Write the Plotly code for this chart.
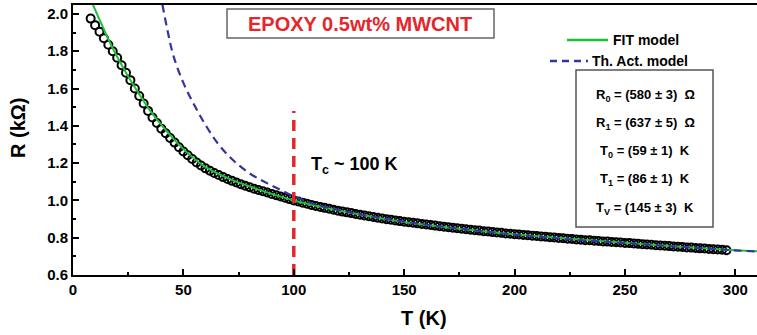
import plotly.graph_objects as go

# ---- data ----
T_data = list(range(8, 297, 2))
R_data = [1.975, 1.940, 1.905, 1.870, 1.835, 1.800, 1.765, 1.725, 1.685, 1.645,
          1.600, 1.560, 1.520, 1.480, 1.445, 1.415, 1.385, 1.360, 1.335, 1.310,
          1.285, 1.262, 1.242, 1.222, 1.203, 1.187, 1.172, 1.159, 1.147, 1.136,
          1.125, 1.115, 1.105, 1.096, 1.087, 1.079, 1.071, 1.063, 1.056, 1.049,
          1.042, 1.035, 1.028, 1.021, 1.014, 1.007, 1.000, 0.994, 0.988, 0.982,
          0.976, 0.970, 0.965, 0.960, 0.955, 0.950, 0.945, 0.940, 0.936, 0.932,
          0.927, 0.923, 0.919, 0.915, 0.911, 0.907, 0.903, 0.899, 0.896, 0.892,
          0.889, 0.886, 0.883, 0.880, 0.877, 0.874, 0.871, 0.868, 0.865, 0.862,
          0.859, 0.856, 0.853, 0.851, 0.848, 0.845, 0.843, 0.840, 0.838, 0.835,
          0.833, 0.830, 0.828, 0.826, 0.823, 0.821, 0.819, 0.817, 0.815, 0.813,
          0.811, 0.809, 0.807, 0.805, 0.803, 0.801, 0.799, 0.797, 0.795, 0.793,
          0.791, 0.789, 0.787, 0.786, 0.784, 0.782, 0.780, 0.779, 0.777, 0.776,
          0.774, 0.772, 0.771, 0.769, 0.767, 0.765, 0.764, 0.762, 0.760, 0.758,
          0.757, 0.755, 0.753, 0.752, 0.750, 0.748, 0.747, 0.745, 0.743, 0.742,
          0.740, 0.738, 0.737, 0.735, 0.733]

T_fit = [9, 12, 15, 20, 25, 30, 35, 40, 50, 60, 70, 80, 90, 100, 125, 150, 175,
         200, 225, 250, 275, 300, 310]
R_fit = [2.05, 1.97, 1.89, 1.77, 1.665, 1.57, 1.48, 1.405, 1.275, 1.18, 1.12,
         1.075, 1.035, 1.0, 0.935, 0.884, 0.848, 0.818, 0.794, 0.773, 0.752,
         0.733, 0.727]

T_act = [40.5, 43, 45.5, 50, 55, 60, 65, 70, 75, 80, 85, 90, 95, 100, 105, 110,
         125, 150, 175, 200, 225, 250, 275, 300, 310]
R_act = [2.05, 1.90, 1.775, 1.63, 1.51, 1.405, 1.315, 1.245, 1.19, 1.145, 1.11,
         1.08, 1.05, 1.022, 0.998, 0.978, 0.937, 0.886, 0.849, 0.816, 0.791,
         0.771, 0.751, 0.732, 0.726]

Tc = 100
Tc_line_R = [0.6, 1.48]

x_ticks = [0, 50, 100, 150, 200, 250, 300]
y_ticks = [0.6, 0.8, 1.0, 1.2, 1.4, 1.6, 1.8, 2.0]

params = ["R<sub>0</sub> = (580 ± 3)  Ω",
          "R<sub>1</sub> = (637 ± 5)  Ω",
          "T<sub>0</sub> = (59 ± 1)  K",
          "T<sub>1</sub> = (86 ± 1)  K",
          "T<sub>V</sub> = (145 ± 3)  K"]

# ---- layout helpers (pixel -> paper) ----
W, H = 757, 335
L, R_, T_, B = 73, 0, 5, 60
PW, PH = W - L - R_, H - T_ - B


def px(x):
    return (x - L) / PW


def py(y):
    return (H - B - y) / PH


FONT = "Liberation Sans, Arial, sans-serif"
GREEN = "#1fbf3a"
BLUE = "#34349e"
RED = "#e5262b"

fig = go.Figure()
fig.add_trace(go.Scatter(
    x=T_data, y=R_data, mode="markers",
    marker=dict(symbol="circle-open", size=8, color="black",
                line=dict(width=2, color="black")),
    showlegend=False, cliponaxis=False))
fig.add_trace(go.Scatter(
    x=T_fit, y=R_fit, mode="lines", line=dict(color=GREEN, width=2, shape="spline"),
    showlegend=False))
fig.add_trace(go.Scatter(
    x=T_act, y=R_act, mode="lines",
    line=dict(color=BLUE, width=2.2, dash="8px,5px", shape="spline"),
    showlegend=False))
fig.add_trace(go.Scatter(
    x=[Tc, Tc], y=Tc_line_R, mode="lines",
    line=dict(color=RED, width=3.5, dash="11px,7px"), showlegend=False))

shapes = []
annotations = []


def label(x, y, text, size, color="black", xanchor="center", angle=0):
    annotations.append(dict(xref="paper", yref="paper", x=px(x), y=py(y),
                            xanchor=xanchor, yanchor="middle", text=text,
                            showarrow=False, textangle=angle,
                            font=dict(family=FONT, size=size, color=color)))


# axis titles
label(424, 318, "<b>T (K)</b>", 20)
label(18, 128, "<b>R (kΩ)</b>", 20, angle=-90)

# title box
shapes.append(dict(type="rect", xref="paper", yref="paper",
                   x0=px(227), x1=px(494), y0=py(38), y1=py(9),
                   line=dict(color="#666666", width=1.5), fillcolor="white"))
label(360, 24, "<b>EPOXY 0.5wt% MWCNT</b>", 20, RED)

# legend
shapes.append(dict(type="line", xref="paper", yref="paper",
                   x0=px(567), x1=px(608), y0=py(40), y1=py(40),
                   line=dict(color=GREEN, width=2.5)))
label(611, 40, "<b>FIT model</b>", 14, xanchor="left")
shapes.append(dict(type="line", xref="paper", yref="paper",
                   x0=px(550), x1=px(588), y0=py(61), y1=py(61),
                   line=dict(color=BLUE, width=2.5, dash="7px,5px")))
label(590, 61, "<b>Th. Act. model</b>", 14, xanchor="left")

# parameter box
shapes.append(dict(type="rect", xref="paper", yref="paper",
                   x0=px(576), x1=px(713), y0=py(227), y1=py(70),
                   line=dict(color="#555555", width=1.5), fillcolor="white"))
for i, t in enumerate(params):
    label(645, 95 + 28.3 * i, "<b>" + t + "</b>", 13)

# Tc label
label(309, 165, "<b>T<sub>c</sub> ~ 100 K</b>", 18, xanchor="left")

fig.update_layout(
    width=W, height=H,
    margin=dict(l=L, r=R_, t=T_, b=B, autoexpand=False),
    plot_bgcolor="white", paper_bgcolor="white",
    shapes=shapes, annotations=annotations,
    font=dict(family=FONT, color="black"),
)
fig.update_xaxes(
    range=[0, 309.8], tickvals=x_ticks, ticktext=[f"<b>{v}</b>" for v in x_ticks],
    ticks="inside", ticklen=6, tickwidth=1.5, tickcolor="black",
    minor=dict(ticks="inside", dtick=25, ticklen=3, tickwidth=1.5, tickcolor="black"),
    showline=True, linecolor="black", linewidth=2, mirror=True,
    showgrid=False, zeroline=False, automargin=False,
    tickfont=dict(family=FONT, size=15, color="black"),
)
fig.update_yaxes(
    range=[0.6, 2.048], tickvals=y_ticks, ticktext=[f"<b>{v:.1f}</b>" for v in y_ticks],
    ticks="inside", ticklen=6, tickwidth=1.5, tickcolor="black",
    minor=dict(ticks="inside", dtick=0.1, ticklen=3, tickwidth=1.5, tickcolor="black"),
    showline=True, linecolor="black", linewidth=2, mirror=False,
    showgrid=False, zeroline=False, automargin=False,
    tickfont=dict(family=FONT, size=15, color="black"),
)

fig.write_html("out.html", config={"displayModeBar": False},
               post_script="document.body.style.margin='0';document.body.style.overflow='hidden';")
